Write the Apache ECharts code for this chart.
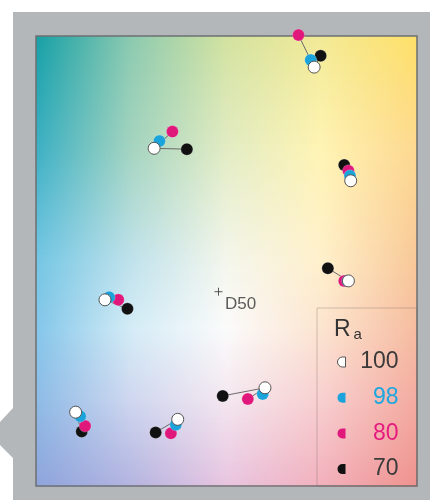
<!DOCTYPE html>
<html>
<head>
<meta charset="utf-8">
<script src="https://cdn.jsdelivr.net/npm/echarts@6/dist/echarts.min.js"></script>
<style>
  html, body { margin: 0; padding: 0; background: #ffffff; }
  #chart { width: 430px; height: 500px; }
</style>
</head>
<body>
<div id="chart"></div>
<script>
// Colour shift of eight test colours for light sources of falling R_a.
// Coordinates are on a normalised 0–100 chromaticity field.
const raLabels = ['100', '98', '80', '70'];
const ra100 = [[73.0, 93.1], [31.0, 75.1], [82.6, 67.9], [82.0, 45.7], [18.1, 41.5], [10.4, 16.6], [37.2, 15.0], [60.1, 22.0]];
const ra98  = [[72.1, 94.7], [32.4, 76.7], [82.4, 69.0], [81.8, 45.7], [19.2, 42.1], [11.6, 15.7], [36.7, 13.8], [59.5, 20.6]];
const ra80  = [[68.9, 100.2], [35.8, 78.8], [82.0, 70.1], [80.9, 45.7], [21.6, 41.5], [12.9, 13.5], [35.4, 11.9], [55.6, 19.5]];
const ra70  = [[74.7, 95.6], [39.6, 74.9], [80.9, 71.4], [76.6, 48.5], [24.0, 39.5], [12.0, 12.3], [31.4, 12.1], [49.0, 20.2]];
const whitePoint = [47.9, 43.3];
const whitePointLabel = 'D50';

const raColors = { '100': '#ffffff', '98': '#1ba3dc', '80': '#e0187c', '70': '#111111' };
const raTextColors = { '100': '#3a3a3a', '98': '#1ba7e0', '80': '#e6197f', '70': '#3a3a3a' };

// plot frame
const P = { left: 36, top: 36, width: 381, height: 451 };

// colour field: rows of colours sampled across the width, blended vertically
const fieldRowsAt = [0, 0.25, 0.5, 0.65, 0.8, 1];
const fieldRows = [
  ['#15a0a6', '#8ccab0', '#d2e2a0', '#f2ea96', '#ffe068'],
  ['#3cb0c4', '#a4d4c0', '#e2ecc4', '#fff4b4', '#fdd890'],
  ['#74c6e4', '#c0e2ec', '#f4f6ec', '#fff0cc', '#f8c898'],
  ['#84c6ea', '#d4ecf6', '#fbfbfb', '#fce4d0', '#f6bca0'],
  ['#8ebce6', '#d0d8f0', '#f4e8f0', '#f8d0d0', '#f3aca0'],
  ['#8ea4dc', '#b4b4e0', '#e8c4e0', '#f2b0bc', '#ef928e']
];

function hexToRgb(h) {
  return [parseInt(h.slice(1, 3), 16), parseInt(h.slice(3, 5), 16), parseInt(h.slice(5, 7), 16)];
}
function mix(a, b, t) {
  const A = hexToRgb(a), B = hexToRgb(b);
  return 'rgb(' + A.map((v, i) => Math.round(v + (B[i] - v) * t)).join(',') + ')';
}
function rowAt(t) {
  let k = 0;
  while (k < fieldRowsAt.length - 2 && t > fieldRowsAt[k + 1]) k++;
  const f = (t - fieldRowsAt[k]) / (fieldRowsAt[k + 1] - fieldRowsAt[k]);
  return fieldRows[k].map((c, i) => mix(c, fieldRows[k + 1][i], Math.max(0, Math.min(1, f))));
}

const graphics = [];
// grey surround with its tab on the left
graphics.push({
  type: 'polygon', z: -10, silent: true,
  shape: { points: [[13, 12], [430, 12], [430, 500], [13, 500], [13, 458], [0, 445], [0, 422], [13, 408]] },
  style: { fill: '#b3b7b9' }
});
const step = 3;
for (let y = 0; y < P.height; y += step) {
  const cols = rowAt((y + step / 2) / P.height);
  graphics.push({
    type: 'rect', z: -5, silent: true,
    shape: { x: P.left, y: P.top + y, width: P.width, height: Math.min(step + 1, P.height - y) },
    style: {
      fill: {
        type: 'linear', x: 0, y: 0, x2: 1, y2: 0,
        colorStops: cols.map((c, i) => ({ offset: i / (cols.length - 1), color: c }))
      }
    }
  });
}
graphics.push({
  type: 'rect', z: 1, silent: true,
  shape: { x: P.left, y: P.top, width: P.width, height: P.height - 1 },
  style: { fill: 'none', stroke: '#6e7072', lineWidth: 1.5 }
});
// legend panel
graphics.push({
  type: 'rect', z: 1, silent: true,
  shape: { x: 317, y: 308, width: 100, height: 178 },
  style: { fill: 'none', stroke: 'rgba(120,105,100,0.35)', lineWidth: 1 }
});
graphics.push({
  type: 'text', z: 5, silent: true, x: 334, y: 329.5,
  style: { text: 'R', fontSize: 23, fontFamily: 'Liberation Sans', fill: '#333333', verticalAlign: 'middle' }
});
graphics.push({
  type: 'text', z: 5, silent: true, x: 353.5, y: 335,
  style: { text: 'a', fontSize: 15, fontFamily: 'Liberation Sans', fill: '#333333', verticalAlign: 'middle' }
});

// connectors from the R_a = 100 point to each lower R_a point
const connectors = [];
ra100.forEach((p, i) => {
  [ra98, ra80, ra70].forEach(arr => connectors.push({ coords: [p, arr[i]] }));
});

const seriesData = { '100': ra100, '98': ra98, '80': ra80, '70': ra70 };
const halfDot = 'path://M5,0 A5,5 0 0 0 5,10 L8,10 L8,0 Z';

const legendRich = {};
raLabels.forEach((l, i) => {
  legendRich['t' + i] = { color: raTextColors[l], fontSize: 23, fontFamily: 'Liberation Sans', width: 48, align: 'right', lineHeight: 24 };
});

const chart = echarts.init(document.getElementById('chart'), null, { renderer: 'canvas' });
chart.setOption({
  animation: false,
  backgroundColor: 'transparent',
  grid: { left: P.left, top: P.top, width: P.width, height: P.height, show: false },
  xAxis: { type: 'value', min: 0, max: 100, show: false },
  yAxis: { type: 'value', min: 0, max: 100, show: false },
  legend: {
    orient: 'vertical',
    left: 337, top: 350,
    padding: 0,
    itemGap: 11.7,
    itemWidth: 8, itemHeight: 10,
    selectedMode: false,
    formatter: name => '{t' + raLabels.indexOf(name) + '|' + name + '}',
    textStyle: { fontSize: 23, fontFamily: 'Liberation Sans', lineHeight: 24, rich: legendRich },
    data: raLabels.map(l => ({
      name: l,
      icon: halfDot,
      itemStyle: { color: raColors[l], borderColor: l === '100' ? '#555555' : raColors[l], borderWidth: l === '100' ? 1 : 0 }
    }))
  },
  graphic: { elements: graphics },
  series: [
    {
      type: 'lines', coordinateSystem: 'cartesian2d', silent: true, z: 2,
      lineStyle: { color: '#6b6b6b', width: 1, opacity: 1, curveness: 0 },
      data: connectors
    },
    ...['70', '80', '98', '100'].map(l => ({
      name: l, type: 'scatter', z: 3, clip: false, silent: true,
      symbolSize: 12,
      itemStyle: {
        color: raColors[l], opacity: 1,
        borderColor: l === '100' ? '#555555' : 'rgba(255,255,255,0.4)',
        borderWidth: l === '100' ? 1 : 0.5
      },
      data: seriesData[l]
    })),
    {
      type: 'scatter', z: 3, silent: true, clip: false,
      symbol: 'path://M5,0 L5,10 M0,5 L10,5', symbolSize: 8,
      itemStyle: { color: 'none', borderColor: '#333333', borderWidth: 1 },
      label: {
        show: true, position: 'right', distance: 0, offset: [0, 13],
        formatter: whitePointLabel, fontSize: 17, fontFamily: 'Liberation Sans', color: '#333333'
      },
      data: [whitePoint]
    }
  ]
});
</script>
</body>
</html>
